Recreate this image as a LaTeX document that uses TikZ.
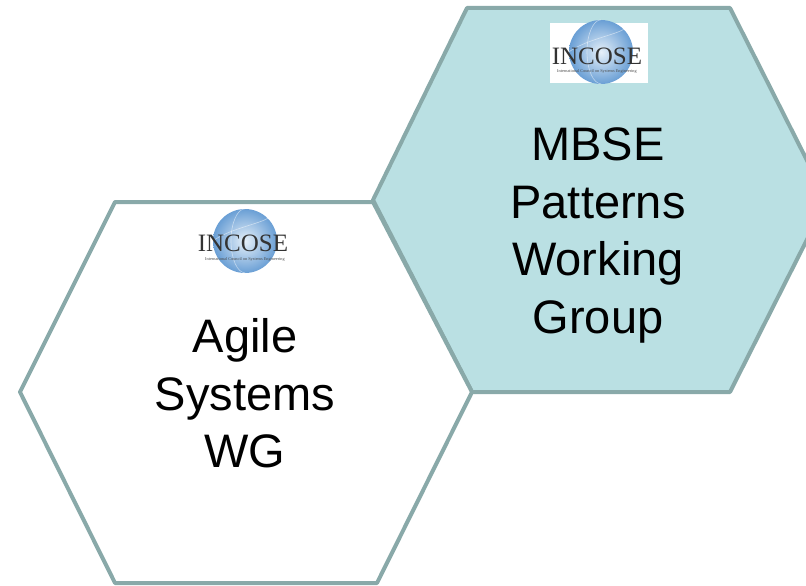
\documentclass[tikz,border=0pt]{standalone}
\usepackage{fontspec}
\setmainfont{Liberation Sans}
\newfontfamily\logofont{Liberation Serif}
\begin{document}
\begin{tikzpicture}[x=1pt,y=-1pt,
  hexline/.style={draw=hexedge,line width=4pt,line join=round},
  wglabel/.style={font=\fontsize{47}{57.5}\selectfont,align=center,inner sep=0pt,anchor=north,text=black},
  logoword/.style={font=\logofont\fontsize{25}{25}\selectfont,inner sep=0pt,anchor=base,text=black!80},
  logosub/.style={font=\logofont\fontsize{4.3}{5}\selectfont,inner sep=0pt,anchor=base,text=black!70},
  globe/.style={circle,minimum size=64pt,inner sep=0pt,inner color=globein,outer color=globeout}]
\definecolor{hexedge}{HTML}{89A9A9}
\definecolor{hexfill}{HTML}{BAE0E3}
\definecolor{globein}{HTML}{E6F0F9}
\definecolor{globeout}{HTML}{6A9FD5}
\useasboundingbox (0,0) rectangle (806,586);
\fill[white] (0,0) rectangle (806,586);
% right hexagon (MBSE)
\coordinate (r1) at (373,200);
\coordinate (r2) at (467,8);
\coordinate (r3) at (730,8);
\coordinate (r4) at (827,200);
\coordinate (r5) at (730,392);
\coordinate (r6) at (472,392);
\path[hexline,fill=hexfill] (r1) -- (r2) -- (r3) -- (r4) -- (r5) -- (r6) -- cycle;
% left hexagon (Agile)
\coordinate (l1) at (20,392);
\coordinate (l2) at (115,202);
\coordinate (l3) at (373,202);
\coordinate (l4) at (472,392);
\coordinate (l5) at (377,583);
\coordinate (l6) at (115,583);
\path[hexline,fill=white] (l1) -- (l2) -- (l3) -- (l4) -- (l5) -- (l6) -- cycle;
% right logo
\node[fill=white,minimum width=98pt,minimum height=60pt,inner sep=0pt] (rlogobg) at (599,53) {};
\node[globe] (rglobe) at (601,52) {};
\draw[white,opacity=0.5,line width=0.6pt] (rglobe.north) arc[start angle=90,end angle=270,x radius=14pt,y radius=32pt];
\draw[white,opacity=0.5,line width=0.6pt] (rglobe.west) .. controls (585,40) and (615,35) .. (rglobe.north east);
\node[logoword] (rlogo) at (597,64) {INCOSE};
\node[logosub] (rsub) at (597,73) {International Council on Systems Engineering};
% left logo
\node[globe] (lglobe) at (245,241) {};
\draw[white,opacity=0.5,line width=0.6pt] (lglobe.north) arc[start angle=90,end angle=270,x radius=14pt,y radius=32pt];
\draw[white,opacity=0.5,line width=0.6pt] (lglobe.west) .. controls (229,229) and (259,224) .. (lglobe.north east);
\node[logoword] (llogo) at (243,251) {INCOSE};
\node[logosub] (lsub) at (245,260) {International Council on Systems Engineering};
% labels
\node[wglabel] (mbse) at (598,127.5) {MBSE\\Patterns\\Working\\Group};
\node[wglabel] (agile) at (245,318.5) {Agile\\Systems\\WG};
\end{tikzpicture}
\end{document}
